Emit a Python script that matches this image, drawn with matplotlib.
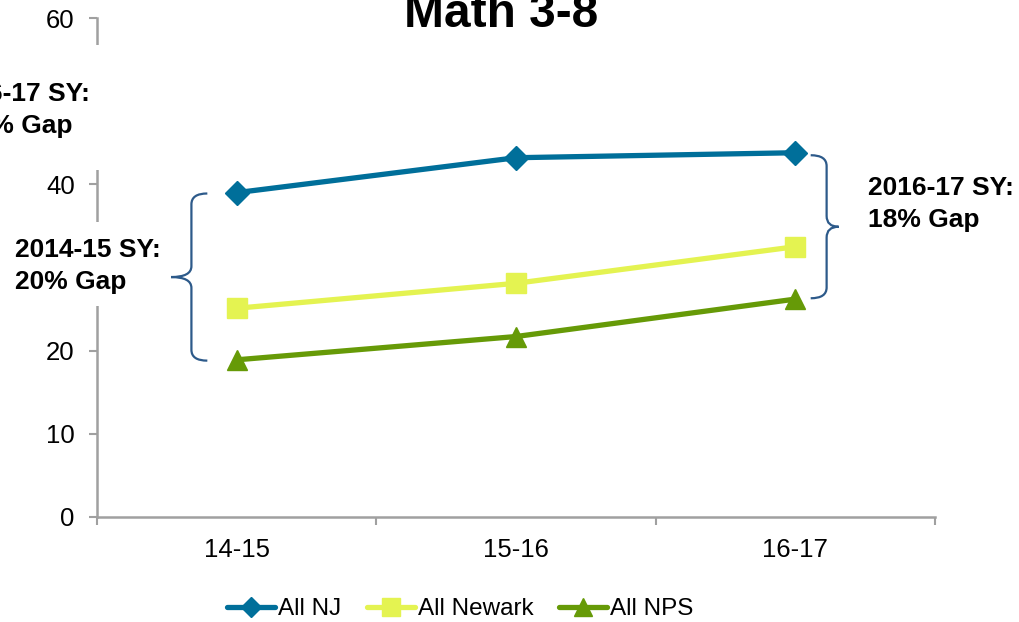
import matplotlib
matplotlib.use("Agg")
import matplotlib.pyplot as plt
from matplotlib.path import Path
from matplotlib.patches import PathPatch, Rectangle
from matplotlib.lines import Line2D

plt.rcParams['font.family'] = ['Liberation Sans', 'DejaVu Sans']

years = ["14-15", "15-16", "16-17"]
all_nj = [39.0, 43.2, 43.8]
all_newark = [25.1, 28.1, 32.5]
all_nps = [18.9, 21.7, 26.2]
series_names = ["All NJ", "All Newark", "All NPS"]
y_ticks = [0, 10, 20, 30, 40, 50, 60]
# labels for 30 and 50 are hidden behind the annotation boxes in the original
y_ticklabels = ["0", "10", "20", "", "40", "", "60"]
title = "Math 3-8"
gap_left = "2014-15 SY:\n20% Gap"
gap_right = "2016-17 SY:\n18% Gap"
gap_top = "2016-17 SY:\n18% Gap"

W, H = 1019, 622
fig = plt.figure(figsize=(W / 100, H / 100), dpi=100)
ax = fig.add_axes([97 / W, 1 - 517 / H, (935 - 97) / W, (517 - 18) / H])

colors = ["#006f9a", "#e4f351", "#669a07"]
markers = ["D", "s", "^"]
msizes = [12, 15, 15]
x = list(range(len(years)))
for vals, c, m, ms, name in zip([all_nj, all_newark, all_nps], colors, markers, msizes, series_names):
    ax.plot(x, vals, color=c, lw=3.8, marker=m, ms=ms, mec=c, mfc=c, label=name,
            solid_capstyle='round', zorder=3)

ax.set_xlim(-0.5, len(years) - 0.5)
ax.set_ylim(0, 60)
ax.set_yticks(y_ticks)
ax.set_yticklabels(y_ticklabels)
ax.set_xticks(x)
ax.set_xticklabels(years)
ax.set_xticks([i - 0.5 for i in range(len(years) + 1)], minor=True)
ax.tick_params(axis='x', which='major', length=0, pad=15, labelsize=18.5)
ax.tick_params(axis='x', which='minor', length=6, color='#a0a0a0', width=1.5)
ax.tick_params(axis='y', length=6, color='#a0a0a0', width=1.5, labelsize=18.5, pad=10)
for s in ['top', 'right']:
    ax.spines[s].set_visible(False)
for s in ['left', 'bottom']:
    ax.spines[s].set_color('#a0a0a0')
    ax.spines[s].set_linewidth(1.8)


def brace(ax, x_line, x_tip, x_point, y_top, y_bot, r=1.3, color="#2d5a8a"):
    y_mid = (y_top + y_bot) / 2
    verts = [
        (x_tip, y_top), (x_line, y_top), (x_line, y_top - r),
        (x_line, y_mid + r),
        (x_line, y_mid), (x_point, y_mid),
        (x_line, y_mid), (x_line, y_mid - r),
        (x_line, y_bot + r),
        (x_line, y_bot), (x_tip, y_bot),
    ]
    codes = [Path.MOVETO, Path.CURVE3, Path.CURVE3, Path.LINETO,
             Path.CURVE3, Path.CURVE3, Path.CURVE3, Path.CURVE3,
             Path.LINETO, Path.CURVE3, Path.CURVE3]
    ax.add_patch(PathPatch(Path(verts, codes), fill=False, ec=color, lw=1.6,
                           clip_on=False, zorder=4))


brace(ax, -0.162, -0.105, -0.235, all_nj[0] - 0.1, all_nps[0] - 0.1)
brace(ax, 2.112, 2.055, 2.155, all_nj[2] - 0.3, all_nps[2] + 0.1)

# white boxes hiding parts of the axis behind the annotations
for (x0, y0, x1, y1) in [(0, 45, 110, 170), (0, 222, 166, 306)]:
    fig.patches.append(Rectangle((x0 / W, 1 - y1 / H), (x1 - x0) / W, (y1 - y0) / H,
                                 transform=fig.transFigure, fc='white', ec='none', zorder=5))

fig.text(15 / W, 1 - 266 / H, gap_left, ha='left', va='center', fontsize=19,
         fontweight='bold', linespacing=1.4, zorder=6)
fig.text(868 / W, 1 - 204 / H, gap_right, ha='left', va='center', fontsize=19,
         fontweight='bold', linespacing=1.4, zorder=6)
fig.text(17 / W, 1 - 110 / H, gap_top, ha='center', va='center', fontsize=19,
         fontweight='bold', linespacing=1.4, multialignment='center', zorder=6)

fig.text(501 / W, 1 - 27 / H, title, ha='center', va='baseline', fontsize=34.5,
         fontweight='bold')

handles = [Line2D([], [], color=c, lw=3.8, marker=m, ms=ms * 0.85, mec=c, mfc=c,
                  solid_capstyle='round')
           for c, m, ms in zip(colors, markers, msizes)]
fig.legend(handles, series_names, loc='center', bbox_to_anchor=(460 / W, 1 - 609 / H),
           ncol=3, frameon=False, fontsize=17.5, handlelength=2.0, handletextpad=0.1,
           columnspacing=1.05)

fig.savefig("out.png", dpi=100)
